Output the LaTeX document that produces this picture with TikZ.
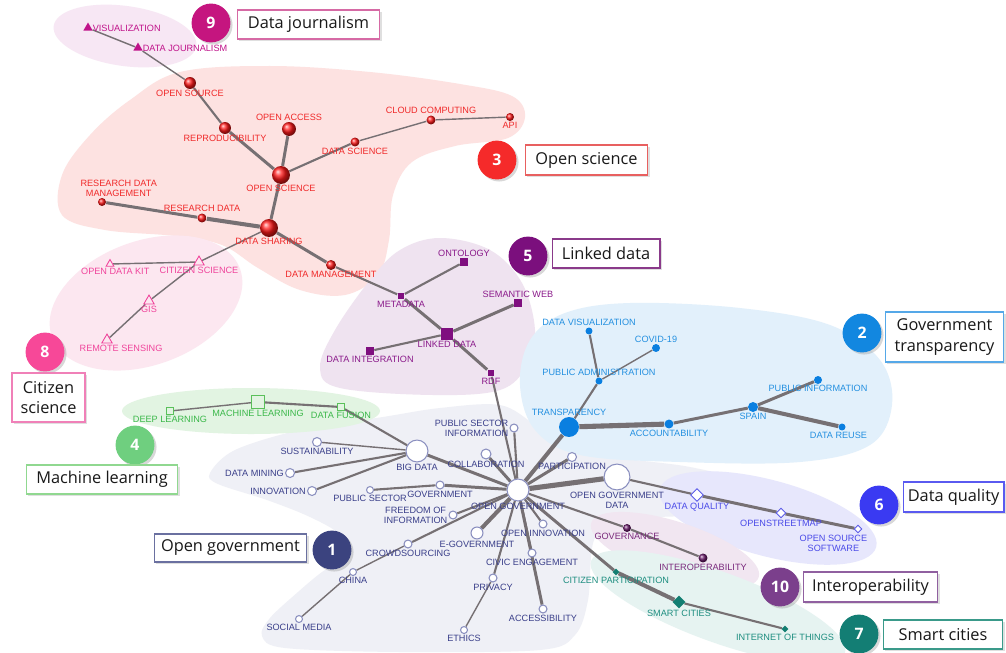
\documentclass[tikz,border=0pt]{standalone}
\usepackage{fontspec}
\newfontfamily\kwfont{Liberation Sans}
\newfontfamily\capfont{Open Sans}
\usetikzlibrary{shapes.geometric,shadows}

\definecolor{linkgray}{RGB}{118,112,115}
% region fills
\definecolor{jfill}{HTML}{F7E7F4}
\definecolor{osfill}{HTML}{FDE2E1}
\definecolor{csfill}{HTML}{FCE7F0}
\definecolor{ldfill}{HTML}{EFE3F0}
\definecolor{gtfill}{HTML}{E2F0FB}
\definecolor{mlfill}{HTML}{E2F4E2}
\definecolor{ogfill}{HTML}{EFF0F6}
\definecolor{dqfill}{HTML}{E7E7FC}
\definecolor{iofill}{HTML}{F1E6F1}
\definecolor{scfill}{HTML}{E6F3F1}
% marks and texts
\definecolor{jcol}{HTML}{C0138A}
\definecolor{osred}{HTML}{FF1A1A}
\definecolor{ostext}{HTML}{F02A2A}
\definecolor{cscol}{HTML}{F0459C}
\definecolor{ldcol}{HTML}{7F0F7F}
\definecolor{ldtext}{HTML}{8B1B8B}
\definecolor{gtcol}{HTML}{0A7FE0}
\definecolor{gttext}{HTML}{2490E0}
\definecolor{mlcol}{HTML}{5AC05A}
\definecolor{mltext}{HTML}{3BB84A}
\definecolor{ogline}{HTML}{8A8FBF}
\definecolor{ogtext}{HTML}{3A3F8A}
\definecolor{dqcol}{HTML}{5A5AE8}
\definecolor{dqtext}{HTML}{4A4AE8}
\definecolor{iocol}{HTML}{6A1A6A}
\definecolor{iotext}{HTML}{7A2A7C}
\definecolor{sccol}{HTML}{137E72}
\definecolor{sctext}{HTML}{1E8E80}
% caption colours
\definecolor{num9}{HTML}{C5157F}\definecolor{box9}{HTML}{D66AA5}
\definecolor{num3}{HTML}{F52A2A}\definecolor{box3}{HTML}{E86060}
\definecolor{num5}{HTML}{7B0F7D}\definecolor{box5}{HTML}{8A3A8A}
\definecolor{num2}{HTML}{1287E0}\definecolor{box2}{HTML}{55A8E8}
\definecolor{num8}{HTML}{F74898}\definecolor{box8}{HTML}{F080B8}
\definecolor{num4}{HTML}{6FCF7F}\definecolor{box4}{HTML}{90D890}
\definecolor{num1}{HTML}{3B437F}\definecolor{box1}{HTML}{6A70A0}
\definecolor{num6}{HTML}{3A3AF2}\definecolor{box6}{HTML}{5A5AF0}
\definecolor{num10}{HTML}{7B3F8C}\definecolor{box10}{HTML}{9060A0}
\definecolor{num7}{HTML}{137E74}\definecolor{box7}{HTML}{3A9A8A}

\pgfdeclarelayer{blob}
\pgfdeclarelayer{link}
\pgfsetlayers{blob,link,main}

\tikzset{
  kw/.style={font=\kwfont\fontsize{5.2}{5.8}\selectfont, inner sep=0.5pt, align=center},
  jl/.style={kw,text=jcol}, osl/.style={kw,text=ostext}, csl/.style={kw,text=cscol},
  ldl/.style={kw,text=ldtext}, gtl/.style={kw,text=gttext}, mll/.style={kw,text=mltext},
  ogl/.style={kw,text=ogtext}, dql/.style={kw,text=dqtext}, iol/.style={kw,text=iotext},
  scl/.style={kw,text=sctext},
  jtri/.style={regular polygon,regular polygon sides=3,inner sep=0pt,minimum size=#1*0.567pt,fill=jcol},
  osball/.style={circle,inner sep=0pt,minimum size=#1*0.567pt,ball color=osred},
  cstri/.style={regular polygon,regular polygon sides=3,inner sep=0pt,minimum size=#1*0.567pt,draw=cscol,fill=csfill,line width=0.5pt},
  ldsq/.style={rectangle,inner sep=0pt,minimum size=#1*0.567pt,fill=ldcol},
  gtdot/.style={circle,inner sep=0pt,minimum size=#1*0.567pt,fill=gtcol},
  mlsq/.style={rectangle,inner sep=0pt,minimum size=#1*0.567pt,draw=mlcol,fill=mlfill,line width=0.5pt},
  ogc/.style={circle,inner sep=0pt,minimum size=#1*0.567pt,draw=ogline,fill=white,line width=0.6pt},
  dqdia/.style={diamond,inner sep=0pt,minimum size=#1*0.567pt,draw=dqcol,fill=white,line width=0.5pt},
  iob/.style={circle,inner sep=0pt,minimum size=#1*0.567pt,ball color=iocol},
  scdia/.style={diamond,inner sep=0pt,minimum size=#1*0.567pt,fill=sccol},
  lk1/.style={draw=linkgray,line width=0.8pt},
  lk2/.style={draw=linkgray,line width=1.2pt},
  lk3/.style={draw=linkgray,line width=1.7pt},
  lk4/.style={draw=linkgray,line width=2.3pt},
  lk5/.style={draw=linkgray,line width=2.9pt},
  numc/.style={circle,fill=#1,minimum size=39*0.567pt,inner sep=0pt,text=white,
    font=\capfont\bfseries\fontsize{9}{9}\selectfont,
    drop shadow={opacity=0.3,shadow xshift=1.2pt,shadow yshift=-1.2pt}},
  capbox/.style={rectangle,draw=#1,line width=0.8pt,fill=white,text=black!90,inner sep=0pt,
    font=\capfont\fontsize{9.3}{11.5}\selectfont,align=center,
    drop shadow={opacity=0.25,shadow xshift=1.2pt,shadow yshift=-1.2pt}}
}

\begin{document}
\begin{tikzpicture}[x=0.02cm,y=-0.02cm]
\useasboundingbox (0,0) rectangle (1006,652);

% cluster regions
\begin{pgfonlayer}{blob}
\fill[white] (0,0) rectangle (1006,652);
\fill[ogfill] plot[smooth cycle,tension=0.55] coordinates {(210,473) (235,450) (300,430) (383,417) (440,408) (500,405) (535,425) (565,447) (620,458) (690,467) (748,483) (752,505) (700,515) (620,520) (594,540) (588,600) (575,635) (540,650) (400,652) (285,648) (262,636) (270,618) (298,592) (322,572) (344,558) (340,535) (310,517) (267,500) (218,484)};
\fill[osfill] plot[smooth cycle,tension=0.6] coordinates {(62,215) (62,175) (90,135) (130,100) (180,72) (270,66) (370,72) (460,84) (512,96) (525,117) (508,138) (455,146) (412,162) (393,195) (389,240) (378,275) (345,295) (300,290) (258,268) (222,245) (175,236) (105,230)};
\fill[csfill,rotate around={20:(146,303)}] (146,303) ellipse [x radius=100, y radius=62];
\fill[jfill,rotate around={-8:(125,36)}] (125,36) ellipse [x radius=72, y radius=30];
\fill[ldfill] plot[smooth cycle,tension=0.6] coordinates {(440,238) (400,250) (370,280) (335,330) (320,368) (340,388) (433,395) (500,390) (527,365) (535,330) (522,283) (490,250)};
\fill[gtfill] plot[smooth cycle,tension=0.6] coordinates {(520,385) (530,340) (565,313) (630,303) (740,308) (830,325) (880,360) (892,405) (870,445) (800,462) (680,462) (580,455) (535,430)};
\fill[mlfill] (251,411) ellipse [x radius=129, y radius=23];
\fill[dqfill,rotate around={-15:(768,518)}] (768,518) ellipse [x radius=112, y radius=38];
\fill[iofill,rotate around={-18:(675,550)}] (675,550) ellipse [x radius=88, y radius=28];
\fill[scfill,rotate around={-20:(718,607)}] (718,607) ellipse [x radius=135, y radius=35];
\end{pgfonlayer}

% 9 data journalism
\node[jtri=11,label={[jl]right:VISUALIZATION}] (visual) at (88,28) {};
\node[jtri=11,label={[jl]right:DATA JOURNALISM}] (djour) at (138,48) {};

% 3 open science
\node[osball=12,label={[osl]below:OPEN SOURCE}] (osrc) at (190,83) {};
\node[osball=12,label={[osl]below:REPRODUCIBILITY}] (repro) at (225,128) {};
\node[osball=14,label={[osl]above:OPEN ACCESS}] (oacc) at (289,129) {};
\node[osball=18,label={[osl]below:OPEN SCIENCE}] (osci) at (281,175) {};
\node[osball=9,label={[osl]below:DATA SCIENCE}] (dsci) at (355,142) {};
\node[osball=9,label={[osl]above:CLOUD COMPUTING}] (cloud) at (431,120) {};
\node[osball=8,label={[osl]below:API}] (api) at (510,117) {};
\node[osball=8,label={[osl,xshift=9.5pt]above:RESEARCH DATA\\MANAGEMENT}] (rdm) at (102,202) {};
\node[osball=9,label={[osl]above:RESEARCH DATA}] (rdata) at (202,218) {};
\node[osball=18,label={[osl]below:DATA SHARING}] (dshare) at (269,228) {};
\node[osball=10,label={[osl]below:DATA MANAGEMENT}] (dmgmt) at (331,265) {};

% 8 citizen science
\node[cstri=12,label={[csl]below:CITIZEN SCIENCE}] (citsci) at (199,262) {};
\node[cstri=9,label={[csl,xshift=3pt]below:OPEN DATA KIT}] (odk) at (110,264) {};
\node[cstri=12,label={[csl]below:GIS}] (gis) at (149,301) {};
\node[cstri=12,label={[csl,xshift=8pt]below:REMOTE SENSING}] (rsens) at (107,340) {};

% 5 linked data
\node[ldsq=8,label={[ldl]above:ONTOLOGY}] (onto) at (464,262) {};
\node[ldsq=7,label={[ldl]below:METADATA}] (meta) at (401,296) {};
\node[ldsq=8,label={[ldl]above:SEMANTIC WEB}] (semweb) at (518,303) {};
\node[ldsq=12,label={[ldl]below:LINKED DATA}] (linked) at (447,334) {};
\node[ldsq=8,label={[ldl]below:DATA INTEGRATION}] (dinteg) at (370,351) {};
\node[ldsq=7,label={[ldl]below:RDF}] (rdf) at (491,373) {};

% 2 government transparency
\node[gtdot=7,label={[gtl]above:DATA VISUALIZATION}] (dvis) at (589,331) {};
\node[gtdot=8,label={[gtl]above:COVID-19}] (covid) at (656,348) {};
\node[gtdot=7,label={[gtl]above:PUBLIC ADMINISTRATION}] (padmin) at (599,381) {};
\node[gtdot=20,label={[gtl]above:TRANSPARENCY}] (transp) at (569,427) {};
\node[gtdot=9,label={[gtl]below:ACCOUNTABILITY}] (account) at (669,424) {};
\node[gtdot=10,label={[gtl]below:SPAIN}] (spain) at (753,407) {};
\node[gtdot=8,label={[gtl]below:PUBLIC INFORMATION}] (pinfo) at (818,380) {};
\node[gtdot=7,label={[gtl,xshift=-2pt]below:DATA REUSE}] (dreuse) at (842,427) {};

% 4 machine learning
\node[mlsq=7,label={[mll]below:DEEP LEARNING}] (deepl) at (170,411) {};
\node[mlsq=13,label={[mll]below:MACHINE LEARNING}] (machl) at (258,402) {};
\node[mlsq=7,label={[mll]below:DATA FUSION}] (dfusion) at (341,407) {};

% 1 open government
\node[ogc=22,label={[ogl]below:BIG DATA}] (bigdata) at (417,451) {};
\node[ogc=9,label={[ogl]below:SUSTAINABILITY}] (sustain) at (317,442) {};
\node[ogc=9,label={[ogl]left:DATA MINING}] (dmining) at (290,473) {};
\node[ogc=9,label={[ogl]left:INNOVATION}] (innov) at (312,491) {};
\node[ogc=7,label={[ogl]below:PUBLIC SECTOR}] (psector) at (370,490) {};
\node[ogc=8,label={[ogl]below:GOVERNMENT}] (gov) at (440,485) {};
\node[ogc=8,label={[ogl]left:FREEDOM OF\\INFORMATION}] (foi) at (453,515) {};
\node[ogc=8,label={[ogl]below:CROWDSOURCING}] (crowd) at (408,544) {};
\node[ogc=7,label={[ogl]below:CHINA}] (china) at (353,572) {};
\node[ogc=7,label={[ogl]below:SOCIAL MEDIA}] (smedia) at (299,619) {};
\node[ogc=8,label={[ogl,align=right]left:PUBLIC SECTOR\\INFORMATION}] (psi) at (514,428) {};
\node[ogc=10,label={[ogl]below:COLLABORATION}] (collab) at (486,454) {};
\node[ogc=9,label={[ogl]below:PARTICIPATION}] (partic) at (572,457) {};
\node[ogc=22,label={[ogl]below:OPEN GOVERNMENT}] (opengov) at (518,490) {};
\node[ogc=26,label={[ogl]below:OPEN GOVERNMENT\\DATA}] (ogd) at (617,477) {};
\node[ogc=12,label={[ogl]below:E-GOVERNMENT}] (egov) at (477,533) {};
\node[ogc=8,label={[ogl]below:OPEN INNOVATION}] (oinnov) at (543,524) {};
\node[ogc=8,label={[ogl]below:CIVIC ENGAGEMENT}] (civic) at (532,553) {};
\node[ogc=8,label={[ogl]below:PRIVACY}] (privacy) at (493,578) {};
\node[ogc=7,label={[ogl]below:ETHICS}] (ethics) at (464,630) {};
\node[ogc=8,label={[ogl]below:ACCESSIBILITY}] (access) at (543,609) {};

% 10 interoperability
\node[iob=8,label={[iol]below:GOVERNANCE}] (governance) at (627,528) {};
\node[iob=9,label={[iol]below:INTEROPERABILITY}] (interop) at (703,558) {};

% 7 smart cities
\node[scdia=7,label={[scl]below:CITIZEN PARTICIPATION}] (cpart) at (616,572) {};
\node[scdia=13,label={[scl]below:SMART CITIES}] (smart) at (679,602) {};
\node[scdia=7,label={[scl]below:INTERNET OF THINGS}] (iot) at (785,629) {};

% 6 data quality
\node[dqdia=13,label={[dql]below:DATA QUALITY}] (dqual) at (697,495) {};
\node[dqdia=10,label={[dql]below:OPENSTREETMAP}] (osm) at (781,513) {};
\node[dqdia=8,label={[dql,xshift=-14pt]below:OPEN SOURCE\\SOFTWARE}] (oss) at (858,529) {};

% links
\begin{pgfonlayer}{link}
\draw[lk1] (visual) -- (djour) -- (osrc);
\draw[lk2] (osrc) -- (repro);
\draw[lk3] (repro) -- (osci);
\draw[lk3] (oacc) -- (osci);
\draw[lk2] (osci) -- (dsci);
\draw[lk1] (dsci) -- (cloud) -- (api);
\draw[lk3] (osci) -- (dshare);
\draw[lk3] (rdm) -- (rdata);
\draw[lk4] (rdata) -- (dshare);
\draw[lk3] (dshare) -- (dmgmt);
\draw[lk2] (dmgmt) -- (meta);
\draw[lk1] (dshare) -- (citsci);
\draw[lk1] (citsci) -- (odk);
\draw[lk1] (citsci) -- (gis) -- (rsens);
\draw[lk2] (meta) -- (onto);
\draw[lk3] (meta) -- (linked);
\draw[lk3] (linked) -- (semweb);
\draw[lk2] (linked) -- (dinteg);
\draw[lk3] (linked) -- (rdf);
\draw[lk2] (rdf) -- (opengov);
\draw[lk2] (dvis) -- (padmin);
\draw[lk1] (covid) -- (padmin);
\draw[lk2] (padmin) -- (transp);
\draw[lk5] (transp) -- (account);
\draw[lk3] (account) -- (spain);
\draw[lk3] (spain) -- (pinfo);
\draw[lk4] (spain) -- (dreuse);
\draw[lk4] (transp) -- (opengov);
\draw[lk1] (deepl) -- (machl);
\draw[lk2] (machl) -- (dfusion) -- (bigdata);
\draw[lk1] (bigdata) -- (sustain);
\draw[lk2] (bigdata) -- (dmining);
\draw[lk2] (bigdata) -- (innov);
\draw[lk3] (bigdata) -- (opengov);
\draw[lk2] (psi) -- (opengov);
\draw[lk3] (collab) -- (opengov);
\draw[lk3] (partic) -- (opengov);
\draw[lk5] (opengov) -- (ogd);
\draw[lk2] (psector) -- (gov);
\draw[lk3] (gov) -- (opengov);
\draw[lk2] (foi) -- (opengov);
\draw[lk2] (crowd) -- (opengov);
\draw[lk1] (smedia) -- (china) -- (crowd);
\draw[lk4] (egov) -- (opengov);
\draw[lk2] (oinnov) -- (opengov);
\draw[lk2] (civic) -- (opengov);
\draw[lk3] (access) -- (opengov);
\draw[lk2] (privacy) -- (opengov);
\draw[lk1] (ethics) -- (privacy);
\draw[lk2] (opengov) -- (governance) -- (interop);
\draw[lk3] (opengov) -- (cpart);
\draw[lk4] (cpart) -- (smart);
\draw[lk2] (smart) -- (iot);
\draw[lk2] (ogd) -- (dqual);
\draw[lk3] (dqual) -- (osm) -- (oss);
\end{pgfonlayer}

% cluster captions
\node[numc=num9] (n9) at (211,23) {9};
\node[capbox=box9,minimum width=143*0.567pt,minimum height=29*0.567pt] (c9) at (308.5,24.5) {Data journalism};
\node[numc=num3] (n3) at (497,160) {3};
\node[capbox=box3,minimum width=123*0.567pt,minimum height=30*0.567pt] (c3) at (586.5,160) {Open science};
\node[numc=num5] (n5) at (528,256) {5};
\node[capbox=box5,minimum width=108*0.567pt,minimum height=29*0.567pt] (c5) at (606,253.5) {Linked data};
\node[numc=num2] (n2) at (862,333) {2};
\node[capbox=box2,minimum width=119*0.567pt,minimum height=50*0.567pt] (c2) at (944.5,337) {Government\\transparency};
\node[numc=num8] (n8) at (45,352) {8};
\node[capbox=box8,minimum width=73*0.567pt,minimum height=49*0.567pt] (c8) at (48.5,397.5) {Citizen\\science};
\node[numc=num4] (n4) at (135,445) {4};
\node[capbox=box4,minimum width=152*0.567pt,minimum height=29*0.567pt] (c4) at (102,479.5) {Machine learning};
\node[numc=num1] (n1) at (332,550) {1};
\node[capbox=box1,minimum width=153*0.567pt,minimum height=28*0.567pt] (c1) at (230.5,548) {Open government};
\node[numc=num6] (n6) at (879,505) {6};
\node[capbox=box6,minimum width=101*0.567pt,minimum height=30*0.567pt] (c6) at (953.5,497) {Data quality};
\node[numc=num10] (n10) at (780,587) {10};
\node[capbox=box10,minimum width=135*0.567pt,minimum height=30*0.567pt] (c10) at (870.5,587) {Interoperability};
\node[numc=num7] (n7) at (859,634) {7};
\node[capbox=box7,minimum width=120*0.567pt,minimum height=29*0.567pt] (c7) at (943,634.5) {Smart cities};
\end{tikzpicture}
\end{document}
